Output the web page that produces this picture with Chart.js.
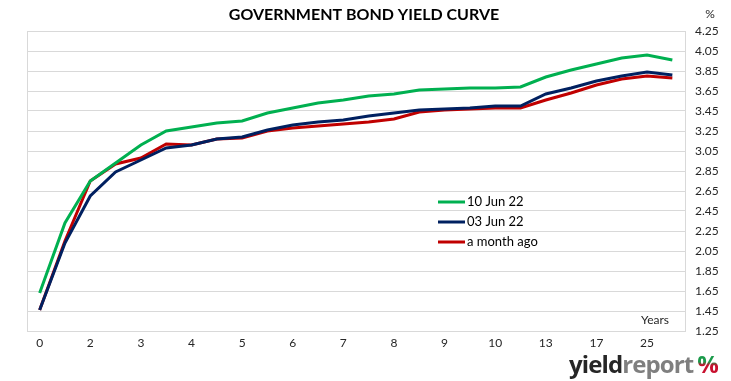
<!DOCTYPE html>
<html>
<head>
<meta charset="utf-8">
<script src="https://cdn.jsdelivr.net/npm/chart.js@4/dist/chart.umd.min.js"></script>
<style>
  html, body { margin: 0; padding: 0; background: #fff; }
  #wrap { position: relative; width: 731px; height: 381px; }
  #logo {
    position: absolute; left: 569px; top: 349px;
    font-family: "Open Sans", sans-serif; font-weight: 700; font-size: 24px;
    letter-spacing: -0.9px; line-height: 30px; white-space: nowrap;
  }
  #logo .a { color: #262626; }
  #logo .b { color: #7f7f7f; }
  #logo .c {
    margin-left: 4px;
    background: linear-gradient(#1a9a4a 0%, #1a9a4a 45%, #c8102e 55%, #c8102e 100%);
    -webkit-background-clip: text; background-clip: text; color: transparent;
  }
</style>
</head>
<body>
<div id="wrap">
  <canvas id="chart" width="731" height="381"></canvas>
  <div id="logo"><span class="a">yield</span><span class="b">report</span><span class="c">%</span></div>
</div>
<script>
// --- Data ---
const maturities = ["0", "1", "2", "2.5", "3", "3.5", "4", "4.5", "5", "5.5", "6", "6.5", "7",
    "7.5", "8", "8.5", "9", "9.5", "10", "11", "13", "15", "17", "20", "25", "30"];

const jun10 = [1.63, 2.33, 2.75, 2.93, 3.11, 3.25, 3.29, 3.33, 3.35, 3.43, 3.48, 3.53, 3.56,
    3.60, 3.62, 3.66, 3.67, 3.68, 3.68, 3.69, 3.79, 3.86, 3.92, 3.98, 4.01, 3.96];

const jun03 = [1.46, 2.13, 2.60, 2.84, 2.96, 3.08, 3.11, 3.17, 3.19, 3.26, 3.31, 3.34, 3.36,
    3.40, 3.43, 3.46, 3.47, 3.48, 3.50, 3.50, 3.62, 3.68, 3.75, 3.80, 3.84, 3.81];

const monthAgo = [1.46, 2.15, 2.75, 2.92, 2.98, 3.12, 3.11, 3.17, 3.18, 3.25, 3.28, 3.30, 3.32,
    3.34, 3.37, 3.44, 3.46, 3.47, 3.48, 3.48, 3.56, 3.63, 3.71, 3.77, 3.80, 3.78];

const seriesNames = ["10 Jun 22", "03 Jun 22", "a month ago"];
const seriesColors = ["#00b050", "#002060", "#c00000"];

const TXT = "#262626";
const GRID = "#d9d9d9";

// --- Extra drawing: frame, titles, legend ---
const decorations = {
    id: "decorations",
    beforeDatasetsDraw(chart) {
        const { ctx, chartArea: a } = chart;
        ctx.save();
        ctx.strokeStyle = GRID;
        ctx.lineWidth = 1;
        ctx.strokeRect(Math.round(a.left) + 0.5, Math.round(a.top) + 0.5,
            Math.round(a.right - a.left), Math.round(a.bottom - a.top));
        ctx.restore();
    },
    afterDraw(chart) {
        const { ctx } = chart;
        ctx.save();
        ctx.fillStyle = "#000";
        ctx.textAlign = "center";
        ctx.textBaseline = "middle";
        ctx.font = "bold 16px Lato, sans-serif";
        ctx.fillText("GOVERNMENT BOND YIELD CURVE", 364, 15, 272);

        ctx.fillStyle = TXT;
        ctx.font = "12px Lato, sans-serif";
        ctx.fillText("%", 710, 14);
        ctx.textAlign = "left";
        ctx.fillText("Years", 641, 320);

        // legend
        ctx.font = "13px Lato, sans-serif";
        chart.data.datasets.forEach((ds, i) => {
            const y = 202 + i * 20;
            ctx.strokeStyle = ds.borderColor;
            ctx.lineWidth = 3;
            ctx.beginPath();
            ctx.moveTo(438, y);
            ctx.lineTo(465, y);
            ctx.stroke();
            ctx.fillStyle = "#000";
            ctx.fillText(ds.label, 467, y);
        });
        ctx.restore();
    }
};

new Chart(document.getElementById("chart"), {
    type: "line",
    data: {
        labels: maturities,
        datasets: [jun10, jun03, monthAgo].map((d, i) => ({
            label: seriesNames[i],
            data: d,
            borderColor: seriesColors[i],
            backgroundColor: seriesColors[i],
            borderWidth: 3,
            pointRadius: 0,
            tension: 0,
        })),
    },
    options: {
        responsive: false,
        animation: false,
        layout: { padding: { left: 27, top: 31, right: 0, bottom: 0 } },
        plugins: { legend: { display: false }, tooltip: { enabled: false } },
        scales: {
            x: {
                offset: true,
                grid: { display: false, drawTicks: false },
                border: { display: false },
                afterFit(s) { s.height = 50; },
                ticks: {
                    autoSkip: false,
                    maxRotation: 0,
                    padding: 5,
                    color: TXT,
                    font: { family: "Lato, sans-serif", size: 12 },
                    callback(v, i) { return i % 2 === 0 ? maturities[i] : ""; },
                },
            },
            y: {
                position: "right",
                min: 1.25,
                max: 4.25,
                afterFit(s) { s.width = 46; },
                grid: { color: GRID, drawTicks: false },
                border: { display: false },
                ticks: {
                    stepSize: 0.2,
                    padding: 10,
                    color: TXT,
                    font: { family: "Lato, sans-serif", size: 12 },
                    callback(v) { return v.toFixed(2); },
                },
            },
        },
    },
    plugins: [decorations],
});
</script>
</body>
</html>
